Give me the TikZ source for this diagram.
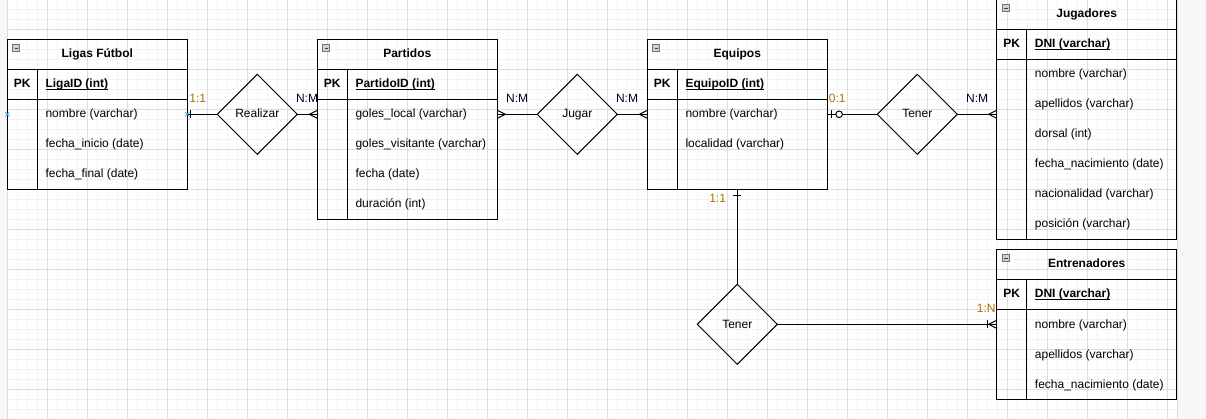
\documentclass[tikz,border=0pt]{standalone}
\usepackage{fontspec}
\setmainfont{Liberation Sans}
\usetikzlibrary{shapes.geometric,calc}
\definecolor{cardc}{RGB}{176,112,0}
\definecolor{gridmin}{RGB}{243,243,243}
\definecolor{gridmaj}{RGB}{222,222,222}
\definecolor{selblue}{RGB}{41,182,242}
\definecolor{pagebg}{RGB}{247,247,247}
\newcommand{\ulx}[1]{\setbox0\hbox{#1}\rlap{\rule[-2.3pt]{\wd0}{0.9pt}}\box0}
\tikzset{
  tbox/.style={draw, rectangle, inner sep=0pt, outer sep=0pt, minimum width=180pt, line width=1pt},
  tline/.style={line width=1pt},
  txt/.style={font=\fontsize{12pt}{14pt}\selectfont, inner sep=0pt, text height=9pt, text depth=1.6pt},
  ttitle/.style={txt, font=\fontsize{12pt}{14pt}\selectfont\bfseries},
  tpk/.style={txt, font=\fontsize{12pt}{14pt}\selectfont\bfseries},
  tattr/.style={txt, anchor=west},
  iconbox/.style={draw=black!55, fill=black!18, line width=0.7pt},
  dia/.style={draw, diamond, shape aspect=1, minimum width=80pt, minimum height=80pt, inner sep=0pt, outer sep=0pt, line width=1pt, txt},
  conn/.style={line width=1pt},
  card/.style={txt, text=cardc},
  cardnm/.style={txt, text=black!85!blue},
  selx/.style={draw=selblue, line width=0.8pt},
}
\newcommand{\ertable}[7]{%
  \node[tbox, minimum height={60+30*#4}, anchor=north west] (#1) at (#2,#3) {};
  \draw[tline] (#2,#3+30) -- ++(180,0);
  \draw[tline] (#2,#3+60) -- ++(180,0);
  \draw[tline] (#2+30,#3+30) -- (#2+30,{#3+60+30*#4});
  \node[ttitle] (#1-t) at (#2+90,#3+15) {#5};
  \node[tpk] (#1-pk) at (#2+15,#3+45) {PK};
  \node[tattr] (#1-k) at (#2+38,#3+45) {\bfseries\ulx{#6}};
  \foreach \aname [count=\i] in {#7} \node[tattr] (#1-r\i) at (#2+38,{#3+45+30*\i}) {\aname};
  \draw[iconbox] (#2+5.5,#3+5.5) rectangle ++(7,7);
  \draw[black!75, line width=0.8pt] (#2+7.2,#3+9) -- ++(3.6,0);
}
\begin{document}
\begin{tikzpicture}[x=1pt,y=-1pt]
\useasboundingbox (0,0) rectangle (1206,419);
% background and grid
\fill[pagebg] (0,0) rectangle (1206,419);
\fill[white] (7,0) rectangle (1177,419);
\foreach \k in {0,...,117} \draw[gridmin, line width=1pt] (7+10*\k,0) -- ++(0,419);
\foreach \k in {0,...,41} \draw[gridmin, line width=1pt] (7,9.3+10*\k) -- (1177,9.3+10*\k);
\foreach \k in {0,...,29} \draw[gridmaj, line width=1pt] (7+40*\k,0) -- ++(0,419);
\foreach \k in {0,...,9} \draw[gridmaj, line width=1pt] (7,29.3+40*\k) -- (1177,29.3+40*\k);
\draw[black!14, line width=1pt] (1177.8,0) -- (1177.8,419);

% tables
\ertable{ligas}{7.3}{39.3}{3}{Ligas Fútbol}{LigaID (int)}{nombre (varchar), fecha\_inicio (date), fecha\_final (date)}
\ertable{partidos}{317.3}{39.3}{4}{Partidos}{PartidoID (int)}{goles\_local (varchar), goles\_visitante (varchar), fecha (date), duración (int)}
\ertable{equipos}{647.3}{39.3}{3}{Equipos}{EquipoID (int)}{nombre (varchar), localidad (varchar)}
\ertable{jugadores}{996.7}{-0.7}{6}{Jugadores}{DNI (varchar)}{nombre (varchar), apellidos (varchar), dorsal (int), fecha\_nacimiento (date), nacionalidad (varchar), posición (varchar)}
\ertable{entrenadores}{996.7}{249.3}{3}{Entrenadores}{DNI (varchar)}{nombre (varchar), apellidos (varchar), fecha\_nacimiento (date)}

% relationships
\node[dia] (realizar) at (257.3,114.3) {Realizar};
\node[dia] (jugar) at (577.3,114.3) {Jugar};
\node[dia] (tener1) at (917.3,114.3) {Tener};
\node[dia] (tener2) at (737.3,324.3) {Tener};

% connectors
\draw[conn] (ligas.east |- realizar.west) -- (realizar.west);
\draw[conn] (realizar.east) -- (partidos.west |- realizar.east);
\draw[conn] (partidos.east |- jugar.west) -- (jugar.west);
\draw[conn] (jugar.east) -- (equipos.west |- jugar.east);
\draw[conn] (equipos.east |- tener1.west) -- (tener1.west);
\draw[conn] (tener1.east) -- (jugadores.west |- tener1.east);
\draw[conn] (equipos.south) -- (tener2.north);
\draw[conn] (tener2.east) -- (entrenadores.west |- tener2.east);

% markers
\draw[conn] ($(ligas.east |- realizar.west)+(3.5,-4)$) -- ++(0,8);
\draw[conn] ($(partidos.west |- realizar.east)+(0,-4)$) -- ++(-8,4) -- ++(8,4);
\draw[conn] ($(partidos.east |- jugar.west)+(0,-4)$) -- ++(8,4) -- ++(-8,4);
\draw[conn] ($(equipos.west |- jugar.east)+(0,-4)$) -- ++(-8,4) -- ++(8,4);
\draw[conn] ($(equipos.east |- tener1.west)+(3.7,-4)$) -- ++(0,8);
\draw[conn, fill=white] ($(equipos.east |- tener1.west)+(11.8,0)$) circle (3.3);
\draw[conn] ($(jugadores.west |- tener1.east)+(0,-4)$) -- ++(-8,4) -- ++(8,4);
\draw[conn] ($(equipos.south)+(-4,6)$) -- ++(8,0);
\draw[conn] ($(entrenadores.west |- tener2.east)+(0,-4)$) -- ++(-8,4) -- ++(8,4);
\draw[conn] ($(entrenadores.west |- tener2.east)+(-9,-4)$) -- ++(0,8);

% selection marks
\draw[selx] ($(ligas.east |- realizar.west)+(-2,-2)$) -- ++(4,4) ++(-4,0) -- ++(4,-4);
\draw[selx] ($(ligas.west |- realizar.west)+(-2,-2)$) -- ++(4,4) ++(-4,0) -- ++(4,-4);

% cardinality labels
\node[card] (c1) at (197.8,98.8) {1:1};
\node[cardnm] (c2) at (307,98.8) {N:M};
\node[cardnm] (c3) at (517.2,98.8) {N:M};
\node[cardnm] (c4) at (627,98.8) {N:M};
\node[card] (c5) at (837.2,98.8) {0:1};
\node[cardnm] (c6) at (977.2,98.8) {N:M};
\node[card] (c7) at (717.6,198.8) {1:1};
\node[card] (c8) at (986.2,308.8) {1:N};
\end{tikzpicture}
\end{document}
